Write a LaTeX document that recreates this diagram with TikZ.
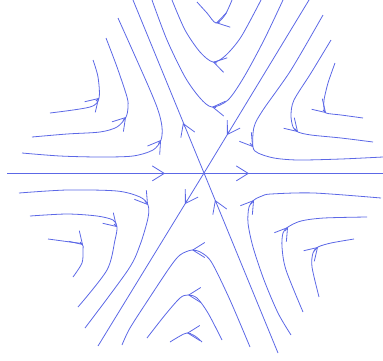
\documentclass[tikz,border=0pt]{standalone}
\usetikzlibrary{arrows.meta}
\definecolor{flowblue}{RGB}{92,104,230}
\begin{document}
\begin{tikzpicture}[x=1pt, y=-1pt, >={Straight Barb[length=12pt,width=15pt]},
    flow/.style={draw=flowblue, line width=0.8pt}]
\useasboundingbox (0,0) rectangle (383,360);
\draw[flow] (7,173.4) -- (383,173.4);
\draw[flow] (133,0) -- (204,173) -- (278,353);
\draw[flow] (309,0) -- (204,173) -- (98,346);
\draw[flow,->] (160,173.4) -- (165,173.4);
\draw[flow,->] (244,173.4) -- (249,173.4);
\draw[flow,->] (184.5,126.7) -- (183,123);
\draw[flow,->] (229.1,131.6) -- (227,135);
\draw[flow,->] (187.1,200.6) -- (185,204);
\draw[flow,->] (216.5,203.7) -- (215,200);
% upper left
\draw[flow] plot[smooth] coordinates {(93,60) (98,77) (99,98) (90,107) (50,113)};
\draw[flow] plot[smooth] coordinates {(106,38) (117,67) (127,97) (128,107) (126,117) (117,127) (100,132) (67,134) (32,137)};
\draw[flow] plot[smooth] coordinates {(118,18) (147,83) (158,110) (162,127) (161,140) (153,150) (133,156) (100,157) (60,156) (22,153)};
\draw[flow,->] (96,101) -- (99,98);
\draw[flow,->] (123,120.5) -- (126,117);
\draw[flow,->] (158.5,143.5) -- (161,140);
% lower left
\draw[flow] plot[smooth] coordinates {(48,239) (70,242) (82,244) (83,250) (82,263) (73,277)};
\draw[flow] plot[smooth] coordinates {(30,216) (67,214) (97,216) (113,220) (117,227) (115,240) (107,270) (78,307)};
\draw[flow] plot[smooth] coordinates {(19,193) (67,190) (117,191) (140,197) (148,205) (148,218) (140,245) (128,270) (85,328)};
\draw[flow,->] (80,242) -- (83,245);
\draw[flow,->] (114,224) -- (117,227);
\draw[flow,->] (145,201) -- (148,205);
% upper right
\draw[flow] plot[smooth] coordinates {(323,15) (291,70) (263,110) (254,127) (253,147) (258,153) (274,158) (298,160) (341,159) (383,157)};
\draw[flow] plot[smooth] coordinates {(331,40) (311,73) (294,100) (291,115) (293,127) (298,132) (311,135) (341,138) (373,142)};
\draw[flow] plot[smooth] coordinates {(335,63) (328,83) (324,100) (324,108) (326,113) (341,115) (363,118)};
\draw[flow,->] (250,143) -- (253,147);
\draw[flow,->] (294.5,128.5) -- (298,132);
\draw[flow,->] (323,110) -- (326,113);
% lower right
\draw[flow] plot[smooth] coordinates {(291,335) (278,313) (264,280) (253,247) (248,223) (249,207) (254,200) (262,196) (271,194) (314,193) (381,198)};
\draw[flow] plot[smooth] coordinates {(303,312) (286,270) (282,247) (283,233) (288,227) (301,221) (324,218) (367,217)};
\draw[flow] plot[smooth] coordinates {(319,297) (312,267) (313,253) (318,247) (331,243) (354,239)};
\draw[flow,->] (251,204) -- (254,200);
\draw[flow,->] (285,231) -- (288,227);
\draw[flow,->] (314,251) -- (318,247);
% top
\draw[flow] plot[smooth] coordinates {(197,2) (207,13) (216,23) (225,15) (232,0)};
\draw[flow] plot[smooth] coordinates {(172,0) (185,30) (200,52) (213,62) (225,56) (241,37) (261,0)};
\draw[flow] plot[smooth] coordinates {(152,0) (167,40) (185,77) (200,98) (212,107) (228,100) (244,77) (264,40) (283,0)};
\draw[flow,->] (220,22) -- (216,23);
\draw[flow,->] (217,63) -- (213,62);
\draw[flow,->] (216,107.5) -- (212,107);
% bottom
\draw[flow] plot[smooth] coordinates {(250,347) (230,300) (212,263) (202,253) (192,250) (180,255) (170,267) (150,297) (130,328) (122,345)};
\draw[flow] plot[smooth] coordinates {(222,340) (208,313) (197,298) (188,295) (180,298) (165,315) (147,338)};
\draw[flow] plot[smooth] coordinates {(202,342) (195,336) (187,333) (180,336) (170,342)};
\draw[flow,->] (196,250) -- (192,250);
\draw[flow,->] (192,295) -- (188,295);
\draw[flow,->] (191,333) -- (187,333);
\end{tikzpicture}
\end{document}
